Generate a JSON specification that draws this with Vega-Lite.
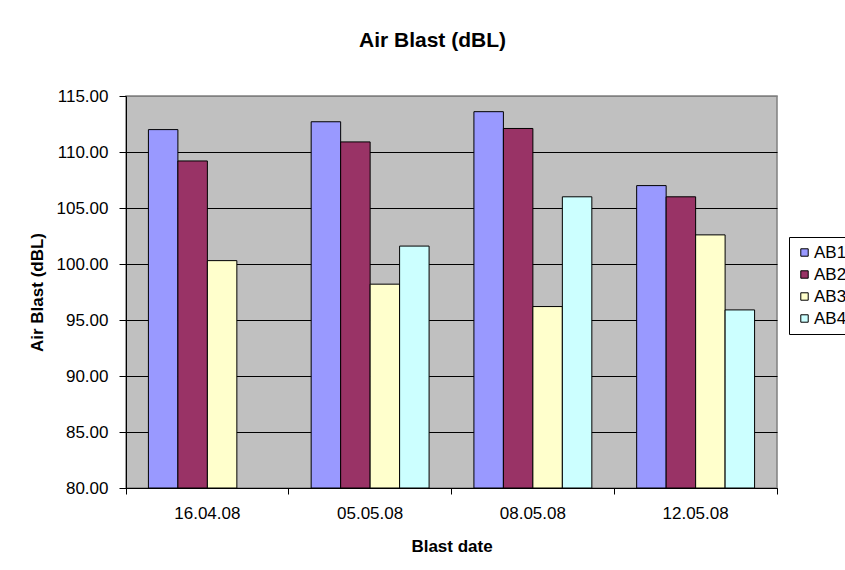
{
  "$schema": "https://vega.github.io/schema/vega-lite/v6.json",
  "width": 651,
  "height": 392,
  "autosize": {"type": "none"},
  "padding": {"left": 126, "top": 96, "right": 68, "bottom": 82},
  "background": "white",
  "title": {
    "text": "Air Blast (dBL)",
    "font": "Liberation Sans",
    "fontSize": 21,
    "fontWeight": "bold",
    "color": "black",
    "anchor": "middle",
    "dx": -19,
    "offset": 36
  },
  "data": {
    "values": [
      {"date": "16.04.08", "series": "AB1", "value": 112.0},
      {"date": "16.04.08", "series": "AB2", "value": 109.2},
      {"date": "16.04.08", "series": "AB3", "value": 100.3},
      {"date": "05.05.08", "series": "AB1", "value": 112.7},
      {"date": "05.05.08", "series": "AB2", "value": 110.9},
      {"date": "05.05.08", "series": "AB3", "value": 98.2},
      {"date": "05.05.08", "series": "AB4", "value": 101.6},
      {"date": "08.05.08", "series": "AB1", "value": 113.6},
      {"date": "08.05.08", "series": "AB2", "value": 112.1},
      {"date": "08.05.08", "series": "AB3", "value": 96.2},
      {"date": "08.05.08", "series": "AB4", "value": 106.0},
      {"date": "12.05.08", "series": "AB1", "value": 107.0},
      {"date": "12.05.08", "series": "AB2", "value": 106.0},
      {"date": "12.05.08", "series": "AB3", "value": 102.6},
      {"date": "12.05.08", "series": "AB4", "value": 95.9}
    ]
  },
  "mark": {"type": "bar", "stroke": "black", "strokeWidth": 1, "clip": true},
  "encoding": {
    "x": {
      "field": "date",
      "type": "nominal",
      "sort": ["16.04.08", "05.05.08", "08.05.08", "12.05.08"],
      "scale": {"paddingInner": 0, "paddingOuter": 0},
      "axis": {
        "title": "Blast date",
        "titleFont": "Liberation Sans",
        "titleFontSize": 17,
        "titleFontWeight": "bold",
        "titleColor": "black",
        "titlePadding": 17,
        "labelFont": "Liberation Sans",
        "labelFontSize": 17,
        "labelColor": "black",
        "labelAngle": 0,
        "labelPadding": 11,
        "domainColor": "black",
        "tickColor": "black",
        "tickSize": 6,
        "bandPosition": 1,
        "tickExtra": true
      }
    },
    "xOffset": {
      "field": "series",
      "type": "nominal",
      "scale": {"domain": ["AB1", "AB2", "AB3", "AB4"], "paddingInner": 0, "paddingOuter": 0.76}
    },
    "y": {
      "field": "value",
      "type": "quantitative",
      "scale": {"domain": [80, 115], "zero": false, "nice": false},
      "axis": {
        "title": "Air Blast (dBL)",
        "titleFont": "Liberation Sans",
        "titleFontSize": 17,
        "titleFontWeight": "bold",
        "titleColor": "black",
        "titlePadding": 10,
        "labelFont": "Liberation Sans",
        "labelFontSize": 17,
        "labelColor": "black",
        "labelPadding": 11,
        "format": ".2f",
        "values": [80, 85, 90, 95, 100, 105, 110, 115],
        "domainColor": "black",
        "tickColor": "black",
        "tickSize": 7,
        "grid": true,
        "gridColor": {"condition": {"test": "datum.value == 115", "value": "#808080"}, "value": "black"},
        "gridWidth": 1
      }
    },
    "y2": {"datum": 80},
    "color": {
      "field": "series",
      "type": "nominal",
      "scale": {"domain": ["AB1", "AB2", "AB3", "AB4"], "range": ["#9999FF", "#993366", "#FFFFCC", "#CCFFFF"]},
      "legend": {
        "title": null,
        "orient": "none",
        "legendX": 663,
        "legendY": 141,
        "fillColor": "white",
        "strokeColor": "black",
        "padding": 7,
        "symbolType": "square",
        "symbolSize": 55,
        "symbolStrokeColor": "black",
        "symbolStrokeWidth": 1,
        "labelFont": "Liberation Sans",
        "labelFontSize": 17,
        "labelColor": "black",
        "labelOffset": 1,
        "rowPadding": 4
      }
    }
  },
  "config": {
    "view": {"fill": "#C0C0C0", "stroke": "#808080", "strokeWidth": 1.5}
  }
}
